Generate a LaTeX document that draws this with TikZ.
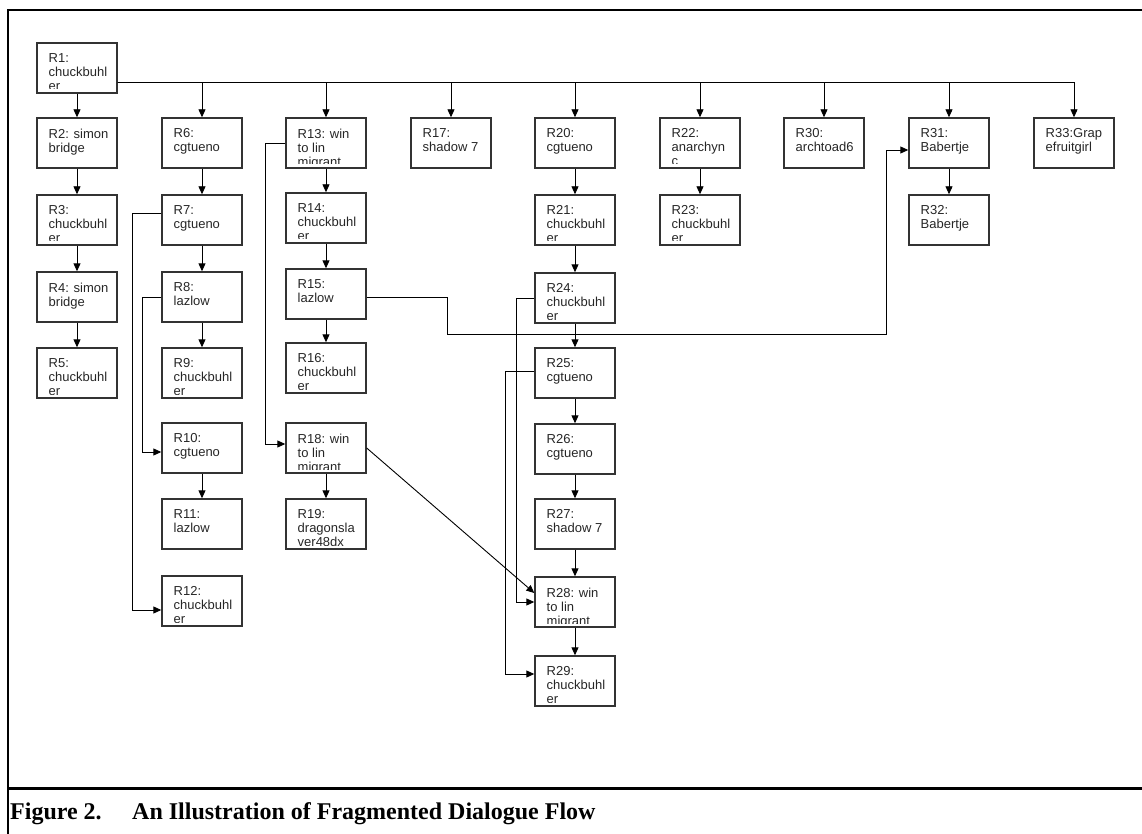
\documentclass[tikz,border=0pt]{standalone}
\usepackage{fontspec}
\setmainfont{Liberation Serif}
\newfontfamily\boxfont{Liberation Sans}
\usepackage{tikz}
\usetikzlibrary{arrows, arrows.meta}

\tikzset{
  rbox/.style={draw=black!80, line width=1.4pt, minimum width=80pt, minimum height=50pt, inner sep=0pt,
    path picture={
      \clip ([yshift=4pt]path picture bounding box.south west) rectangle (path picture bounding box.north east);
      \node[anchor=north west, inner sep=0pt, minimum width=0pt, minimum height=0pt, align=left,
        text=black!85, font=\boxfont\fontsize{13}{14}\selectfont]
        at ([xshift=11pt,yshift=-10pt]path picture bounding box.north west) {#1};}},
  link/.style={line width=0.9pt, ->},
  figcap/.style={anchor=base west, inner sep=0pt, font=\bfseries\fontsize{24}{28}\selectfont},
}

\begin{document}
\begin{tikzpicture}[x=1pt, y=-1pt, >={Triangle[length=8pt, width=7pt]}]
\useasboundingbox (0,0) rectangle (1142,834);

% frame
\draw[line width=2.5pt] (8,834) -- (8,10) -- (1142,10);
\draw[line width=3pt] (8,788) -- (1142,788);

\node[rbox={R1:\\chuckbuhl\\er}] (r1) at (77,68) {};
\node[rbox={R2: simon\\bridge}] (r2) at (77,143) {};
\node[rbox={R3:\\chuckbuhl\\er}] (r3) at (77,220) {};
\node[rbox={R4: simon\\bridge}] (r4) at (77,297) {};
\node[rbox={R5:\\chuckbuhl\\er}] (r5) at (77,373) {};

\node[rbox={R6:\\cgtueno}] (r6) at (202,143) {};
\node[rbox={R7:\\cgtueno}] (r7) at (202,220) {};
\node[rbox={R8:\\lazlow}] (r8) at (202,297) {};
\node[rbox={R9:\\chuckbuhl\\er}] (r9) at (202,373) {};
\node[rbox={R10:\\cgtueno}] (r10) at (202,448) {};
\node[rbox={R11:\\lazlow}] (r11) at (202,524) {};
\node[rbox={R12:\\chuckbuhl\\er}] (r12) at (202,601) {};

\node[rbox={R13: win\\to lin\\migrant}] (r13) at (326,143) {};
\node[rbox={R14:\\chuckbuhl\\er}] (r14) at (326,218) {};
\node[rbox={R15:\\lazlow}] (r15) at (326,294) {};
\node[rbox={R16:\\chuckbuhl\\er}] (r16) at (326,368) {};
\node[rbox={R18: win\\to lin\\migrant}] (r18) at (326,448) {};
\node[rbox={R19:\\dragonsla\\ver48dx}] (r19) at (326,524) {};

\node[rbox={R17:\\shadow 7}] (r17) at (451,143) {};

\node[rbox={R20:\\cgtueno}] (r20) at (575,143) {};
\node[rbox={R21:\\chuckbuhl\\er}] (r21) at (575,220) {};
\node[rbox={R24:\\chuckbuhl\\er}] (r24) at (575,298) {};
\node[rbox={R25:\\cgtueno}] (r25) at (575,373) {};
\node[rbox={R26:\\cgtueno}] (r26) at (575,449) {};
\node[rbox={R27:\\shadow 7}] (r27) at (575,524) {};
\node[rbox={R28: win\\to lin\\migrant}] (r28) at (575,602) {};
\node[rbox={R29:\\chuckbuhl\\er}] (r29) at (575,681) {};

\node[rbox={R22:\\anarchyn\\c}] (r22) at (700,143) {};
\node[rbox={R23:\\chuckbuhl\\er}] (r23) at (700,220) {};
\node[rbox={R30:\\archtoad6}] (r30) at (824,143) {};
\node[rbox={R31:\\Babertje}] (r31) at (949,143) {};
\node[rbox={R32:\\Babertje}] (r32) at (949,220) {};
\node[rbox={R33:Grap\\efruitgirl}] (r33) at (1074,143) {};

\node[figcap] (fignum) at (10,819) {Figure 2.};
\node[figcap] (figtitle) at (132,819) {An Illustration of Fragmented Dialogue Flow};

% replies from R1
\draw[link] ([yshift=-14pt]r1.east) -| (r6.north);
\draw[link] ([yshift=-14pt]r1.east) -| (r13.north);
\draw[link] ([yshift=-14pt]r1.east) -| (r17.north);
\draw[link] ([yshift=-14pt]r1.east) -| (r20.north);
\draw[link] ([yshift=-14pt]r1.east) -| (r22.north);
\draw[link] ([yshift=-14pt]r1.east) -| (r30.north);
\draw[link] ([yshift=-14pt]r1.east) -| (r31.north);
\draw[link] ([yshift=-14pt]r1.east) -| (r33.north);

\draw[link] (r1.south) -- (r2.north);
\draw[link] (r2.south) -- (r3.north);
\draw[link] (r3.south) -- (r4.north);
\draw[link] (r4.south) -- (r5.north);

\draw[link] (r6.south) -- (r7.north);
\draw[link] (r7.south) -- (r8.north);
\draw[link] (r8.south) -- (r9.north);
\draw[link] (r10.south) -- (r11.north);
\draw[link] ([yshift=7pt]r7.west) -- ++(-29,0) |- ([yshift=-9pt]r12.west);
\draw[link] (r8.west) -- ++(-19,0) |- ([yshift=-4pt]r10.west);

\draw[link] (r13.south) -- (r14.north);
\draw[link] (r14.south) -- (r15.north);
\draw[link] (r15.south) -- (r16.north);
\draw[link] (r18.south) -- (r19.north);
\draw[link] (r13.west) -- ++(-20,0) |- ([yshift=4pt]r18.west);

\draw[link] (r20.south) -- (r21.north);
\draw[link] (r21.south) -- (r24.north);
\draw[link] (r24.south) -- (r25.north);
\draw[link] (r25.south) -- (r26.north);
\draw[link] (r26.south) -- (r27.north);
\draw[link] (r27.south) -- (r28.north);
\draw[link] (r28.south) -- (r29.north);
\draw[link] (r24.west) -- ++(-18,0) |- (r28.west);
\draw[link] ([yshift=2pt]r25.west) -- ++(-29,0) |- ([yshift=7pt]r29.west);

\draw[link] (r22.south) -- (r23.north);
\draw[link] (r31.south) -- (r32.north);

% long jumps
\coordinate (jog1) at (447,334);
\coordinate (jog2) at (886,150);
\draw[link] ([yshift=-3pt]r15.east) -| (jog1) -| (jog2) -- ([yshift=-7pt]r31.west);
\draw[link] (r18.east) -- ([yshift=9pt]r28.west);
\end{tikzpicture}
\end{document}
